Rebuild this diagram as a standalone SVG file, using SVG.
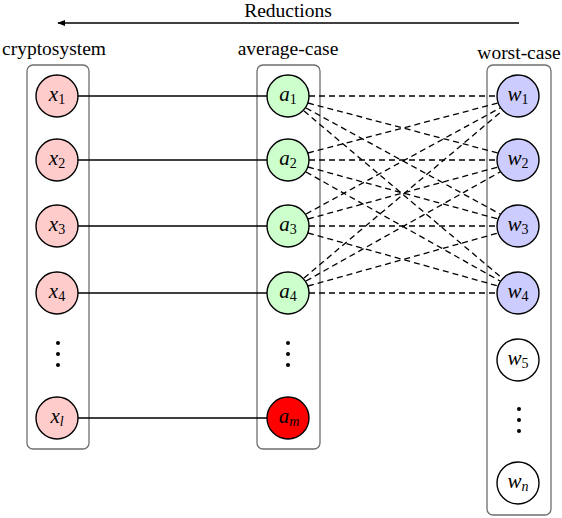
<svg xmlns="http://www.w3.org/2000/svg" width="562" height="518" viewBox="0 0 562 518">
<defs>
<style>
.box{fill:none;stroke:#6e6e6e;stroke-width:1.3}
.n{stroke:#000;stroke-width:1.4}
.x{fill:#ffcccc}.a{fill:#ccffcc}.w{fill:#ccccff}.r{fill:#ff0000}.e{fill:#fff}
.lbl{font-size:19.5px;fill:#000;text-anchor:middle}
.m{font-style:italic;font-size:21px;fill:#000;text-anchor:middle}
.sub{font-style:normal;font-size:14px}
.subi{font-style:italic;font-size:14px}
.solid{stroke:#000;stroke-width:1.4;fill:none}
.dash{stroke:#000;stroke-width:1.3;stroke-dasharray:6 4;fill:none}
</style>
<marker id="ah" viewBox="0 0 10 10" refX="9" refY="5" markerWidth="8" markerHeight="8" orient="auto-start-reverse" markerUnits="userSpaceOnUse">
<path d="M0,1 L10,5 L0,9 z" fill="#000"/>
</marker>
</defs>
<rect width="562" height="518" fill="#fff"/>
<g id="title" font-family="'Liberation Serif', 'Times New Roman', serif">
<text class="lbl" x="288" y="17">Reductions</text>
<line x1="519" y1="23" x2="58" y2="23" stroke="#000" stroke-width="1.5" marker-end="url(#ah)"/>
<text class="lbl" x="54" y="55">cryptosystem</text>
<text class="lbl" x="288" y="55">average-case</text>
<text class="lbl" x="519" y="59">worst-case</text>
</g>
<g id="boxes">
<rect class="box" x="27" y="65" width="62" height="384" rx="6"/>
<rect class="box" x="257" y="65" width="63" height="384" rx="6"/>
<rect class="box" x="487" y="65" width="64" height="450" rx="6"/>
</g>
<g id="connectors">
<line class="solid" x1="78" y1="96" x2="267" y2="96"/>
<line class="solid" x1="78" y1="160" x2="267" y2="160"/>
<line class="solid" x1="78" y1="226" x2="267" y2="226"/>
<line class="solid" x1="78" y1="293" x2="267" y2="293"/>
<line class="solid" x1="78" y1="418" x2="267" y2="418"/>
<g id="dashes">
<line class="dash" x1="309" y1="96" x2="497" y2="96"/>
<line class="dash" x1="308" y1="103" x2="498" y2="153"/>
<line class="dash" x1="306" y1="108" x2="500" y2="214"/>
<line class="dash" x1="304" y1="111" x2="502" y2="278"/>
<line class="dash" x1="308" y1="153" x2="498" y2="103"/>
<line class="dash" x1="309" y1="160" x2="497" y2="160"/>
<line class="dash" x1="308" y1="167" x2="498" y2="219"/>
<line class="dash" x1="306" y1="172" x2="500" y2="281"/>
<line class="dash" x1="306" y1="214" x2="500" y2="108"/>
<line class="dash" x1="308" y1="219" x2="498" y2="167"/>
<line class="dash" x1="309" y1="226" x2="497" y2="226"/>
<line class="dash" x1="308" y1="233" x2="498" y2="286"/>
<line class="dash" x1="304" y1="278" x2="502" y2="111"/>
<line class="dash" x1="306" y1="281" x2="500" y2="172"/>
<line class="dash" x1="308" y1="286" x2="498" y2="233"/>
<line class="dash" x1="309" y1="293" x2="497" y2="293"/>
</g>
</g>
<g id="nodes" font-family="'Liberation Serif', 'Times New Roman', serif">
<g id="x1"><circle class="n x" cx="57" cy="96" r="21"/><text class="m" x="57" y="101">x<tspan class="sub" dy="3">1</tspan></text></g>
<g id="x2"><circle class="n x" cx="57" cy="160" r="21"/><text class="m" x="57" y="165">x<tspan class="sub" dy="3">2</tspan></text></g>
<g id="x3"><circle class="n x" cx="57" cy="226" r="21"/><text class="m" x="57" y="231">x<tspan class="sub" dy="3">3</tspan></text></g>
<g id="x4"><circle class="n x" cx="57" cy="293" r="21"/><text class="m" x="57" y="298">x<tspan class="sub" dy="3">4</tspan></text></g>
<g id="xdots"><circle cx="58" cy="343" r="2"/><circle cx="58" cy="354" r="2"/><circle cx="58" cy="365" r="2"/></g>
<g id="xl"><circle class="n x" cx="57" cy="418" r="21"/><text class="m" x="57" y="423">x<tspan class="subi" dy="3">l</tspan></text></g>
<g id="a1"><circle class="n a" cx="288" cy="96" r="21"/><text class="m" x="288" y="101">a<tspan class="sub" dy="3">1</tspan></text></g>
<g id="a2"><circle class="n a" cx="288" cy="160" r="21"/><text class="m" x="288" y="165">a<tspan class="sub" dy="3">2</tspan></text></g>
<g id="a3"><circle class="n a" cx="288" cy="226" r="21"/><text class="m" x="288" y="231">a<tspan class="sub" dy="3">3</tspan></text></g>
<g id="a4"><circle class="n a" cx="288" cy="293" r="21"/><text class="m" x="288" y="298">a<tspan class="sub" dy="3">4</tspan></text></g>
<g id="adots"><circle cx="288" cy="343" r="2"/><circle cx="288" cy="354" r="2"/><circle cx="288" cy="365" r="2"/></g>
<g id="am"><circle class="n r" cx="288" cy="418" r="21"/><text class="m" x="289" y="423">a<tspan class="subi" dy="3">m</tspan></text></g>
<g id="w1"><circle class="n w" cx="518" cy="96" r="21"/><text class="m" x="518" y="101">w<tspan class="sub" dy="3">1</tspan></text></g>
<g id="w2"><circle class="n w" cx="518" cy="160" r="21"/><text class="m" x="518" y="165">w<tspan class="sub" dy="3">2</tspan></text></g>
<g id="w3"><circle class="n w" cx="518" cy="226" r="21"/><text class="m" x="518" y="231">w<tspan class="sub" dy="3">3</tspan></text></g>
<g id="w4"><circle class="n w" cx="518" cy="293" r="21"/><text class="m" x="518" y="298">w<tspan class="sub" dy="3">4</tspan></text></g>
<g id="w5"><circle class="n e" cx="518" cy="360" r="21"/><text class="m" x="518" y="365">w<tspan class="sub" dy="3">5</tspan></text></g>
<g id="wdots"><circle cx="519" cy="409" r="2"/><circle cx="519" cy="420" r="2"/><circle cx="519" cy="431" r="2"/></g>
<g id="wn"><circle class="n e" cx="518" cy="483" r="21"/><text class="m" x="518" y="488">w<tspan class="subi" dy="3">n</tspan></text></g>
</g>
</svg>
